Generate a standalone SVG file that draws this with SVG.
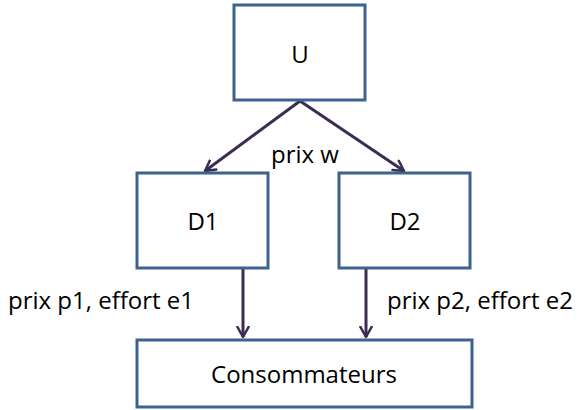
<svg xmlns="http://www.w3.org/2000/svg" width="580" height="410" viewBox="0 0 580 410">
<style>
.box{fill:#fff;stroke:#3d6292;stroke-width:3}
.t{font-family:"Open Sans","Liberation Sans",sans-serif;font-size:24px;fill:#000}
.c{stroke:#3b2d52;stroke-width:3;fill:none}
</style>
<defs>
<marker id="ah" viewBox="0 0 12 12" refX="10" refY="6" markerWidth="4.5" markerHeight="4.5" orient="auto" markerUnits="strokeWidth">
<path d="M1,1 L10,6 L1,11" fill="none" stroke="#3b2d52" stroke-width="2.2" stroke-linecap="round" stroke-linejoin="round"/>
</marker>
</defs>
<g id="connectors">
<line class="c" x1="300" y1="101" x2="205" y2="171" marker-end="url(#ah)"/>
<line class="c" x1="300" y1="101" x2="404" y2="171" marker-end="url(#ah)"/>
<line class="c" x1="243" y1="269" x2="243" y2="337" marker-end="url(#ah)"/>
<line class="c" x1="366" y1="269" x2="366" y2="337" marker-end="url(#ah)"/>
<text class="t" x="305" y="163" text-anchor="middle">prix w</text>
<text class="t" x="8" y="309">prix p1, effort e1</text>
<text class="t" x="387" y="309">prix p2, effort e2</text>
</g>
<g id="U">
<rect class="box" x="234" y="5" width="131" height="95"/>
<text class="t" x="300" y="63" text-anchor="middle">U</text>
</g>
<g id="D1">
<rect class="box" x="137" y="173" width="131" height="95"/>
<text class="t" x="203" y="230" text-anchor="middle">D1</text>
</g>
<g id="D2">
<rect class="box" x="339" y="173" width="131" height="95"/>
<text class="t" x="405" y="230" text-anchor="middle">D2</text>
</g>
<g id="Consommateurs">
<rect class="box" x="137" y="340" width="335" height="67"/>
<text class="t" x="304" y="383" text-anchor="middle">Consommateurs</text>
</g>
</svg>
